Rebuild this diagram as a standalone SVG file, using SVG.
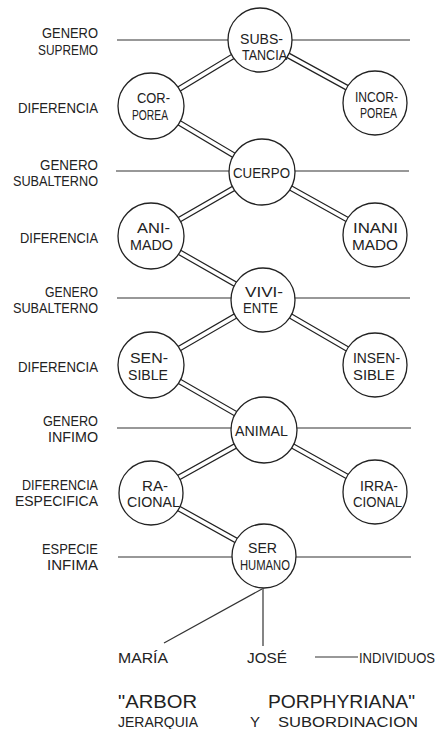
<svg xmlns="http://www.w3.org/2000/svg" width="440" height="729" viewBox="0 0 440 729">
<style>
text{font-family:"Liberation Sans","DejaVu Sans",sans-serif;fill:#222}
.lbl{font-size:14px}
.nt{font-size:14px}
.n1{font-size:15px}
.bt{font-size:19px}
.sub{font-size:15px}
.lvl{stroke:#333;stroke-width:1.2;fill:none}
.rail-o{stroke:#222;stroke-width:6;fill:none}
.rail-i{stroke:#fff;stroke-width:3.6;fill:none}
.thin{stroke:#333;stroke-width:1.2;fill:none}
circle{fill:#fff;stroke:#222;stroke-width:1.3}
</style>
<rect width="440" height="729" fill="#fff"/>
<g id="levels">
<line class="lvl" x1="117" y1="40" x2="410" y2="40"/>
<line class="lvl" x1="116" y1="171" x2="409" y2="171"/>
<line class="lvl" x1="117" y1="298" x2="410" y2="298"/>
<line class="lvl" x1="117" y1="428" x2="411" y2="428"/>
<line class="lvl" x1="118" y1="557" x2="411" y2="557"/>
</g>
<g id="labels">
<text class="lbl" x="42" y="38" textLength="56" lengthAdjust="spacingAndGlyphs">GENERO</text>
<text class="lbl" x="38" y="55" textLength="60" lengthAdjust="spacingAndGlyphs">SUPREMO</text>
<text class="lbl" x="18" y="113" textLength="80" lengthAdjust="spacingAndGlyphs">DIFERENCIA</text>
<text class="lbl" x="40" y="170" textLength="58" lengthAdjust="spacingAndGlyphs">GENERO</text>
<text class="lbl" x="13" y="186" textLength="85" lengthAdjust="spacingAndGlyphs">SUBALTERNO</text>
<text class="lbl" x="20" y="243" textLength="78" lengthAdjust="spacingAndGlyphs">DIFERENCIA</text>
<text class="lbl" x="45" y="297" textLength="53" lengthAdjust="spacingAndGlyphs">GENERO</text>
<text class="lbl" x="13" y="313" textLength="85" lengthAdjust="spacingAndGlyphs">SUBALTERNO</text>
<text class="lbl" x="18" y="372" textLength="80" lengthAdjust="spacingAndGlyphs">DIFERENCIA</text>
<text class="lbl" x="43" y="426" textLength="55" lengthAdjust="spacingAndGlyphs">GENERO</text>
<text class="lbl" x="48" y="442" textLength="50" lengthAdjust="spacingAndGlyphs">INFIMO</text>
<text class="lbl" x="22" y="490" textLength="76" lengthAdjust="spacingAndGlyphs">DIFERENCIA</text>
<text class="lbl" x="15" y="506" textLength="83" lengthAdjust="spacingAndGlyphs">ESPECIFICA</text>
<text class="lbl" x="42" y="554" textLength="56" lengthAdjust="spacingAndGlyphs">ESPECIE</text>
<text class="lbl" x="47" y="570" textLength="51" lengthAdjust="spacingAndGlyphs">INFIMA</text>
</g>
<g id="connectors">
<path class="rail-o" d="M260,40 L151,106 L262,172 L151,236 L263,300 L151,365 L264,430 L151,493 L264,556 M260,40 L375,103 M262,172 L375,235 M263,300 L375,365 M264,430 L375,492"/>
<path class="rail-i" d="M260,40 L151,106 L262,172 L151,236 L263,300 L151,365 L264,430 L151,493 L264,556 M260,40 L375,103 M262,172 L375,235 M263,300 L375,365 M264,430 L375,492"/>
<line class="thin" x1="263" y1="586" x2="263" y2="646"/>
<line class="thin" x1="262" y1="589" x2="164" y2="643"/>
<line class="thin" x1="315" y1="657" x2="358" y2="657"/>
</g>
<g id="n-substancia"><circle cx="260" cy="40" r="32"/>
<text class="nt" x="240" y="44" textLength="43" lengthAdjust="spacingAndGlyphs">SUBS-</text>
<text class="nt" x="242" y="60" textLength="45" lengthAdjust="spacingAndGlyphs">TANCIA</text></g>
<g id="n-corporea"><circle cx="151" cy="106" r="33"/>
<text class="nt" x="137" y="103" textLength="33" lengthAdjust="spacingAndGlyphs">COR-</text>
<text class="nt" x="132" y="120" textLength="36" lengthAdjust="spacingAndGlyphs">POREA</text></g>
<g id="n-incorporea"><circle cx="375" cy="103" r="32"/>
<text class="nt" x="355" y="102" textLength="43" lengthAdjust="spacingAndGlyphs">INCOR-</text>
<text class="nt" x="360" y="118" textLength="37" lengthAdjust="spacingAndGlyphs">POREA</text></g>
<g id="n-cuerpo"><circle cx="262" cy="172" r="33"/>
<text class="n1" x="233" y="178" textLength="57" lengthAdjust="spacingAndGlyphs">CUERPO</text></g>
<g id="n-animado"><circle cx="151" cy="236" r="33"/>
<text class="nt" x="137" y="233" textLength="33" lengthAdjust="spacingAndGlyphs">ANI-</text>
<text class="nt" x="130" y="250" textLength="43" lengthAdjust="spacingAndGlyphs">MADO</text></g>
<g id="n-inanimado"><circle cx="375" cy="235" r="32"/>
<text class="nt" x="353" y="233" textLength="45" lengthAdjust="spacingAndGlyphs">INANI</text>
<text class="nt" x="352" y="250" textLength="46" lengthAdjust="spacingAndGlyphs">MADO</text></g>
<g id="n-viviente"><circle cx="263" cy="300" r="32"/>
<text class="nt" x="245" y="297" textLength="38" lengthAdjust="spacingAndGlyphs">VIVI-</text>
<text class="nt" x="243" y="313" textLength="35" lengthAdjust="spacingAndGlyphs">ENTE</text></g>
<g id="n-sensible"><circle cx="151" cy="365" r="33"/>
<text class="nt" x="130" y="363" textLength="38" lengthAdjust="spacingAndGlyphs">SEN-</text>
<text class="nt" x="128" y="380" textLength="40" lengthAdjust="spacingAndGlyphs">SIBLE</text></g>
<g id="n-insensible"><circle cx="375" cy="365" r="32"/>
<text class="nt" x="353" y="363" textLength="47" lengthAdjust="spacingAndGlyphs">INSEN-</text>
<text class="nt" x="353" y="380" textLength="42" lengthAdjust="spacingAndGlyphs">SIBLE</text></g>
<g id="n-animal"><circle cx="264" cy="430" r="33"/>
<text class="n1" x="235" y="436" textLength="53" lengthAdjust="spacingAndGlyphs">ANIMAL</text></g>
<g id="n-racional"><circle cx="151" cy="493" r="32"/>
<text class="nt" x="142" y="491" textLength="26" lengthAdjust="spacingAndGlyphs">RA-</text>
<text class="nt" x="127" y="507" textLength="53" lengthAdjust="spacingAndGlyphs">CIONAL</text></g>
<g id="n-irracional"><circle cx="375" cy="492" r="32"/>
<text class="nt" x="360" y="491" textLength="38" lengthAdjust="spacingAndGlyphs">IRRA-</text>
<text class="nt" x="353" y="507" textLength="49" lengthAdjust="spacingAndGlyphs">CIONAL</text></g>
<g id="n-serhumano"><circle cx="264" cy="556" r="32"/>
<text class="nt" x="248" y="553" textLength="29" lengthAdjust="spacingAndGlyphs">SER</text>
<text class="nt" x="240" y="570" textLength="50" lengthAdjust="spacingAndGlyphs">HUMANO</text></g>
<g id="individuals">
<text class="lbl" x="118" y="663" textLength="50" lengthAdjust="spacingAndGlyphs">MARÍA</text>
<text class="lbl" x="247" y="663" textLength="40" lengthAdjust="spacingAndGlyphs">JOSÉ</text>
<text class="lbl" x="359" y="663" textLength="76" lengthAdjust="spacingAndGlyphs">INDIVIDUOS</text>
</g>
<g id="title">
<text class="bt" x="118" y="708" textLength="79" lengthAdjust="spacingAndGlyphs">"ARBOR</text>
<text class="bt" x="268" y="708" textLength="147" lengthAdjust="spacingAndGlyphs">PORPHYRIANA"</text>
<text class="sub" x="118" y="727" textLength="80" lengthAdjust="spacingAndGlyphs">JERARQUIA</text>
<text class="sub" x="250" y="727" textLength="10" lengthAdjust="spacingAndGlyphs">Y</text>
<text class="sub" x="278" y="727" textLength="140" lengthAdjust="spacingAndGlyphs">SUBORDINACION</text>
</g>
</svg>
